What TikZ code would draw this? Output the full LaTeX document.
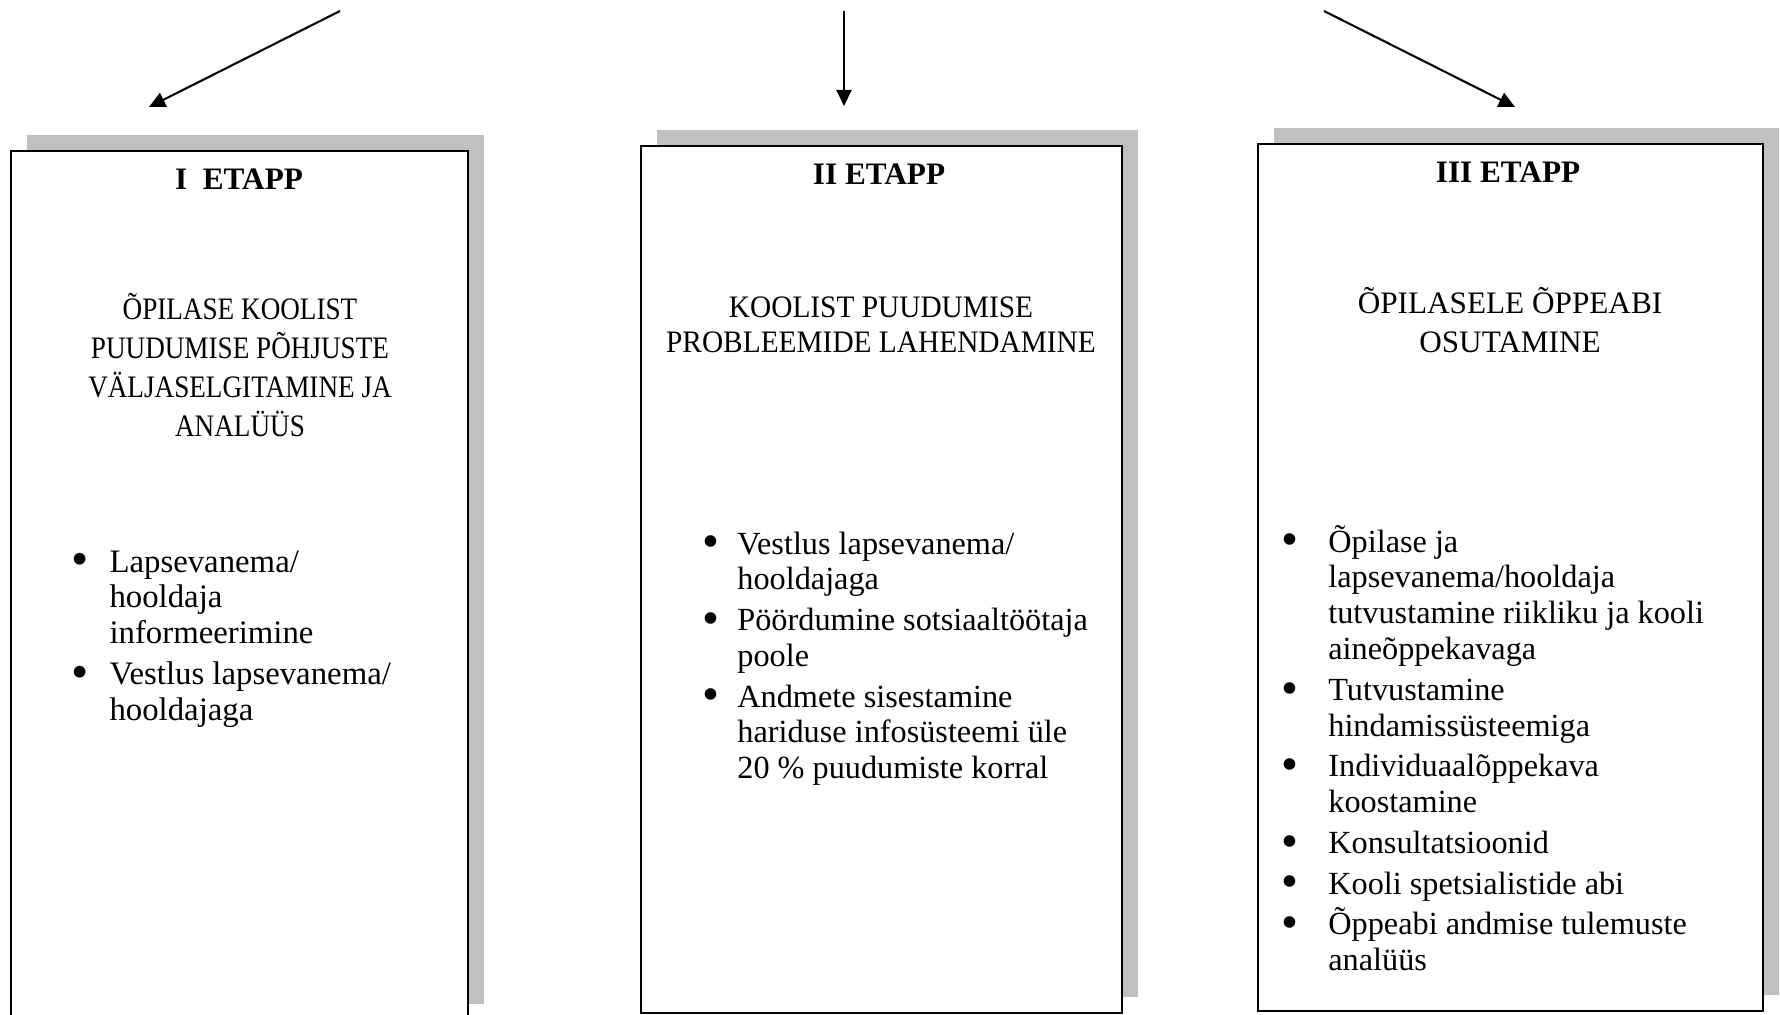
\documentclass[tikz,border=0pt]{standalone}
\usepackage{fontspec}
\setmainfont{Liberation Serif}
\usetikzlibrary{shadows,arrows.meta}

\definecolor{shadowgray}{HTML}{C0C0C0}
\newcommand{\px}{0.0135cm}
\newlength{\bhang}
\newcommand{\bitem}[1]{\par\hangindent=\bhang\hangafter=1\noindent
    \makebox[\bhang][l]{\raisebox{-0.12em}{\scalebox{1.5}{\textbullet}}}#1}
\newcommand{\blist}[3]{\parbox[t]{240pt}{\setlength{\bhang}{#2}\setlength{\parskip}{1.8pt}%
    \raggedright\fontsize{#1}{13.8}\selectfont #3}}

\begin{document}
\begin{tikzpicture}[x=\px,y=-\px]
        \tikzstyle{stagebox}=[draw,line width=0.8pt,fill=white,inner sep=0pt,
            drop shadow={shadow xshift=16*\px,shadow yshift=16*\px,fill=shadowgray,opacity=1}]
        \tikzstyle{flow}=[-{Triangle[length=6.2pt,width=5.8pt]},line width=0.8pt]
        \tikzstyle{stagetitle}=[anchor=base,font=\fontsize{12}{14}\selectfont\bfseries]
        \tikzstyle{stagehead}=[anchor=base,inner sep=0pt]
        \tikzstyle{stagelist}=[anchor=base west,inner sep=0pt]
        \useasboundingbox (0,0) rectangle (1780,1014);

        % boxes
        \node[stagebox,minimum width=457*\px,minimum height=869*\px] (stage1) at (239.5,585.5) {};
        \node[stagebox,minimum width=481*\px,minimum height=867*\px] (stage2) at (881.5,579.5) {};
        \node[stagebox,minimum width=505*\px,minimum height=867*\px] (stage3) at (1510.5,577.5) {};

        % arrows
        \coordinate (from1) at (340,11);
        \coordinate (to1) at (149,107);
        \coordinate (from2) at (844,11);
        \coordinate (to2) at (844,106);
        \coordinate (from3) at (1324,11);
        \coordinate (to3) at (1515,107);
        \draw[flow] (from1) -- (to1);
        \draw[flow] (from2) -- (to2);
        \draw[flow] (from3) -- (to3);

        \node[stagetitle] (title1) at (239,189) {I\ \ ETAPP};
        \node[stagetitle] (title2) at (879,184) {II ETAPP};
        \node[stagetitle] (title3) at (1508,182) {III ETAPP};

        \node[stagehead] (head1) at (240,319) {\scalebox{0.87}[1]{\parbox[t]{195pt}{\centering\fontsize{12}{15}\selectfont
            ÕPILASE KOOLIST\\ PUUDUMISE PÕHJUSTE\\ VÄLJASELGITAMINE JA\\ ANALÜÜS}}};
        \node[stagehead] (head2) at (881,317) {\scalebox{0.94}[1]{\parbox[t]{190pt}{\centering\fontsize{12}{13.6}\selectfont
            KOOLIST PUUDUMISE\\ PROBLEEMIDE LAHENDAMINE}}};
        \node[stagehead] (head3) at (1510,313) {\parbox[t]{190pt}{\centering\fontsize{12}{15}\selectfont
            ÕPILASELE ÕPPEABI\\ OSUTAMINE}};

        \node[stagelist] (list1) at (71,572) {\blist{12.6}{14.6pt}{%
            \bitem{Lapsevanema/\newline hooldaja\newline informeerimine}
            \bitem{Vestlus lapsevanema/\newline hooldajaga}}};
        \node[stagelist] (list2) at (702,554) {\blist{12.4}{13.4pt}{%
            \bitem{Vestlus lapsevanema/\newline hooldajaga}
            \bitem{Pöördumine sotsiaaltöötaja\newline poole}
            \bitem{Andmete sisestamine\newline hariduse infosüsteemi üle\newline 20 \% puudumiste korral}}};
        \node[stagelist] (list3) at (1281,552) {\blist{12.4}{18pt}{%
            \bitem{Õpilase ja\newline lapsevanema/hooldaja\newline tutvustamine riikliku ja kooli\newline aineõppekavaga}
            \bitem{Tutvustamine\newline hindamissüsteemiga}
            \bitem{Individuaalõppekava\newline koostamine}
            \bitem{Konsultatsioonid}
            \bitem{Kooli spetsialistide abi}
            \bitem{Õppeabi andmise tulemuste\newline analüüs}}};
\end{tikzpicture}
\end{document}
